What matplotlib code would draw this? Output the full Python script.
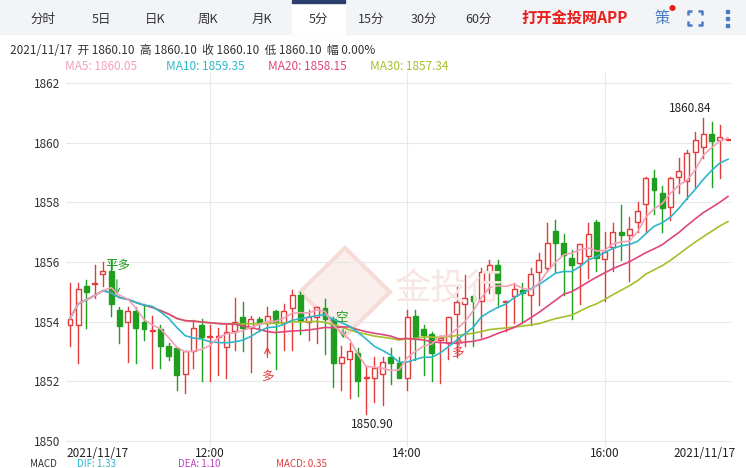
import matplotlib
matplotlib.use("Agg")
import matplotlib.pyplot as plt
from matplotlib.patches import Rectangle, Polygon
import numpy as np
import pandas as pd

plt.rcParams['font.family'] = ['Noto Sans CJK SC', 'DejaVu Sans']

opens = [1853.9,1853.9,1855.2,1855.25,1855.6,1855.7,1854.4,1854.0,1854.35,1854.0,
         1853.7,1853.75,1853.2,1853.1,1852.25,1853.0,1853.9,1853.5,1853.5,1853.15,
         1853.7,1854.15,1853.8,1854.1,1853.95,1854.35,1853.95,1854.45,1854.9,1854.0,
         1854.15,1854.45,1854.1,1852.6,1852.75,1852.95,1852.1,1852.1,1852.25,1852.8,
         1852.6,1852.1,1854.2,1853.75,1853.6,1853.4,1853.3,1854.25,1854.6,1854.85,
         1854.7,1855.65,1855.9,1854.65,1854.85,1855.05,1854.9,1855.65,1855.8,1857.05,
         1856.65,1856.15,1855.95,1856.2,1857.35,1856.1,1856.5,1857.0,1856.9,1857.35,
         1857.95,1858.8,1858.3,1857.85,1858.85,1858.7,1859.7,1859.85,1860.3,1860.1,1860.1]
closes = [1854.1,1855.1,1855.0,1855.3,1855.7,1854.6,1853.85,1854.35,1853.8,1853.75,
          1853.7,1853.2,1852.85,1852.2,1853.0,1853.8,1853.5,1853.5,1853.5,1853.65,
          1854.0,1853.8,1854.1,1853.95,1854.2,1854.0,1854.35,1854.9,1854.05,1854.15,
          1854.5,1854.1,1852.6,1852.8,1853.0,1852.0,1852.1,1852.45,1852.65,1852.6,
          1852.1,1854.15,1853.5,1853.55,1852.95,1853.45,1854.15,1854.65,1854.8,1854.7,
          1855.65,1855.9,1854.95,1854.7,1855.1,1854.95,1855.6,1856.05,1856.65,1856.65,
          1856.25,1855.9,1856.6,1856.95,1856.15,1856.35,1857.0,1856.9,1857.1,1857.7,
          1858.8,1858.4,1857.8,1858.8,1859.05,1859.65,1860.1,1860.3,1860.05,1860.2,1860.1]
highs = [1855.3,1855.3,1855.4,1855.9,1856.0,1856.05,1854.5,1854.5,1854.5,1854.6,
         1854.2,1853.9,1853.3,1853.1,1853.0,1854.05,1854.1,1853.9,1853.8,1853.9,
         1854.8,1854.65,1854.2,1854.15,1854.5,1854.4,1854.6,1855.05,1855.0,1854.4,
         1854.5,1854.75,1854.15,1853.2,1853.3,1853.1,1852.5,1852.8,1852.8,1853.1,
         1852.8,1854.4,1854.4,1853.9,1853.65,1853.45,1854.15,1855.15,1855.55,1854.85,
         1855.8,1856.05,1856.05,1854.7,1855.3,1855.3,1855.8,1856.3,1857.3,1857.4,
         1856.95,1856.4,1856.6,1857.3,1857.4,1857.0,1857.3,1857.9,1857.5,1858.0,
         1858.85,1859.1,1858.55,1858.85,1859.5,1859.75,1860.35,1860.84,1860.7,1860.6,1860.1]
lows = [1853.2,1852.6,1853.8,1854.8,1855.2,1854.2,1853.3,1852.65,1852.6,1853.4,
        1852.45,1852.45,1852.7,1851.7,1851.6,1852.45,1852.0,1852.0,1852.2,1852.1,
        1853.05,1853.0,1852.3,1853.7,1852.9,1852.4,1853.05,1853.05,1853.6,1853.4,
        1853.3,1852.9,1851.8,1851.7,1851.45,1851.5,1850.9,1851.3,1851.2,1851.9,
        1852.35,1851.7,1852.7,1852.2,1852.0,1851.95,1852.75,1852.8,1853.2,1853.2,
        1853.5,1854.95,1854.5,1853.7,1853.95,1853.95,1853.9,1854.55,1855.7,1855.65,
        1854.9,1854.1,1854.6,1855.45,1855.7,1854.7,1855.7,1856.05,1855.35,1857.0,
        1857.0,1857.6,1857.0,1857.4,1858.3,1858.1,1858.5,1859.5,1858.5,1858.8,1860.1]

ma_periods = [5, 10, 20, 30]
ma_header_values = [1860.05, 1859.35, 1858.15, 1857.34]
y_ticks = [1850, 1852, 1854, 1856, 1858, 1860, 1862]
x_tick_pos = [3.4, 17, 41, 65, 77.2]
x_tick_labels = ["2021/11/17", "12:00", "14:00", "16:00", "2021/11/17"]
tabs = ["分时", "5日", "日K", "周K", "月K", "5分", "15分", "30分", "60分"]
tab_x = [43, 101, 155, 208, 262, 318, 371, 424, 479]

W, H = 746, 468
fig = plt.figure(figsize=(W/100, H/100), dpi=100)
def fx(px): return px / W
def fy(py): return 1 - py / H

bar = fig.add_axes([0, 0, 1, 1]); bar.axis('off')
bar.set_xlim(0, W); bar.set_ylim(H, 0)
bar.add_patch(Rectangle((0, 0), W, 34, color='#f2f4f7'))
bar.add_patch(Rectangle((292, 0), 53, 34, color='white'))
bar.add_patch(Rectangle((292, 0), 53, 3, color='#2c3e6b'))
for t, x in zip(tabs, tab_x):
    fig.text(fx(x), fy(19), t, fontsize=9, color='#333333', ha='center', va='center')
fig.text(fx(575), fy(18), "打开金投网APP", fontsize=11, color='#e8201c', ha='center', va='center', fontweight='bold')
fig.text(fx(662), fy(18), "策", fontsize=11, color='#4a7bc4', ha='center', va='center')
fig.text(fx(672), fy(9), "●", fontsize=5, color='#e8201c', ha='center', va='center')
c = '#4a7bc4'
for (x0, y0, dx, dy) in [(688, 11, 1, 1), (702, 11, -1, 1), (688, 25, 1, -1), (702, 25, -1, -1)]:
    bar.plot([x0 + 4*dx, x0, x0], [y0, y0, y0 + 4*dy], color=c, lw=1.8, solid_capstyle='butt')
for yy in [11, 18, 25]:
    bar.add_patch(Rectangle((725.5, yy - 1.5), 3, 3, color=c))

fig.text(fx(10), fy(50), "2021/11/17  开 1860.10  高 1860.10  收 1860.10  低 1860.10  幅 0.00%",
         fontsize=8.5, color='#333333', va='center')

s = pd.Series(closes)
mas = {k: s.rolling(k, min_periods=1).mean() for k in ma_periods}
ma_colors = {5: '#f3a1b8', 10: '#2db7cc', 20: '#e0467c', 30: '#a5bf2b'}
ma_x = {5: 65, 10: 166, 20: 268, 30: 370}
for k, v in zip(ma_periods, ma_header_values):
    fig.text(fx(ma_x[k]), fy(67), f"MA{k}: {v:.2f}", fontsize=8.5, color=ma_colors[k], va='center')

L, R, T, B = 66, 731, 72, 447
ax = fig.add_axes([fx(L), fy(B), (R-L)/W, (B-T)/H])
n = len(closes)
sp = 8.225
ax.set_xlim((L-70)/sp, (R-70)/sp)
ax.set_ylim(1862 - (B-83)/29.83, 1862 + (83-T)/29.83)
for sp_ in ax.spines.values(): sp_.set_visible(False)
ax.set_facecolor('none')
ax.set_yticks(y_ticks)
ax.set_yticklabels([str(v) for v in y_ticks])
ax.tick_params(axis='y', length=0, pad=4, labelsize=8.5, labelcolor='#333333')
ax.set_xticks(x_tick_pos)
ax.set_xticklabels(x_tick_labels)
ax.tick_params(axis='x', length=0, pad=0, labelsize=8.5, labelcolor='#222222')
ax.grid(False)
for v in y_ticks:
    ax.axhline(v, color='#e8e8e8', lw=0.8, zorder=0)
for v in x_tick_pos[1:4]:
    ax.axvline(v, color='#e8e8e8', lw=0.8, zorder=0)

bar.add_patch(Polygon([(300, 292), (345, 248), (390, 292), (345, 336)], closed=True,
                      facecolor='#fbefed', edgecolor='#f5dcd6', lw=3, zorder=0.5))
fig.text(fx(395), fy(290), "金投行", fontsize=26, color='#f7e6e3', ha='left', va='center', zorder=0.5)

red, green = '#e33b3b', '#1f9e1f'
bw = 0.6
for i in range(n):
    o, c_, h, l = opens[i], closes[i], highs[i], lows[i]
    up = c_ >= o
    col = red if up else green
    ax.plot([i, i], [l, h], color=col, lw=1, zorder=2)
    hgt = max(abs(c_ - o), 0.03)
    ax.add_patch(Rectangle((i - bw/2, min(o, c_)), bw, hgt, facecolor='white' if up else green,
                           edgecolor=col, lw=1, zorder=3))
for k in [30, 20, 10, 5]:
    ax.plot(range(n), mas[k], color=ma_colors[k], lw=1.2, zorder=4)

ax.text(4.3, 1855.75, "平多", color=green, fontsize=9, zorder=5)
ax.annotate("", xy=(5.7, 1854.8), xytext=(5.7, 1855.5), arrowprops=dict(arrowstyle='->', color=green, lw=0.8))
ax.annotate("", xy=(24, 1853.25), xytext=(24, 1852.7), arrowprops=dict(arrowstyle='->', color=red, lw=0.8))
ax.text(24, 1852.05, "多", color=red, fontsize=9, ha='center', zorder=5)
ax.text(33.0, 1854.0, "空", color=green, fontsize=9, ha='center', zorder=5)
ax.annotate("", xy=(33.2, 1853.35), xytext=(33.2, 1853.85), arrowprops=dict(arrowstyle='->', color=green, lw=0.8))
ax.text(47.1, 1852.85, "多", color=red, fontsize=9, ha='center', zorder=5)
ax.annotate("", xy=(47.3, 1853.6), xytext=(47.3, 1853.1), arrowprops=dict(arrowstyle='->', color=red, lw=0.8))
ax.text(36.7, 1850.55, "1850.90", fontsize=8.5, color='#222222', ha='center', va='center')
ax.text(75.4, 1861.15, "1860.84", fontsize=8.5, color='#222222', ha='center', va='center')

fig.text(fx(30), fy(469), "MACD", fontsize=7, color='#333333', va='bottom')
fig.text(fx(77), fy(469), "DIF: 1.33", fontsize=7, color='#2db7cc', va='bottom')
fig.text(fx(178), fy(469), "DEA: 1.10", fontsize=7, color='#c040c0', va='bottom')
fig.text(fx(276), fy(469), "MACD: 0.35", fontsize=7, color='#e33b3b', va='bottom')

fig.savefig("out.png", dpi=100)
